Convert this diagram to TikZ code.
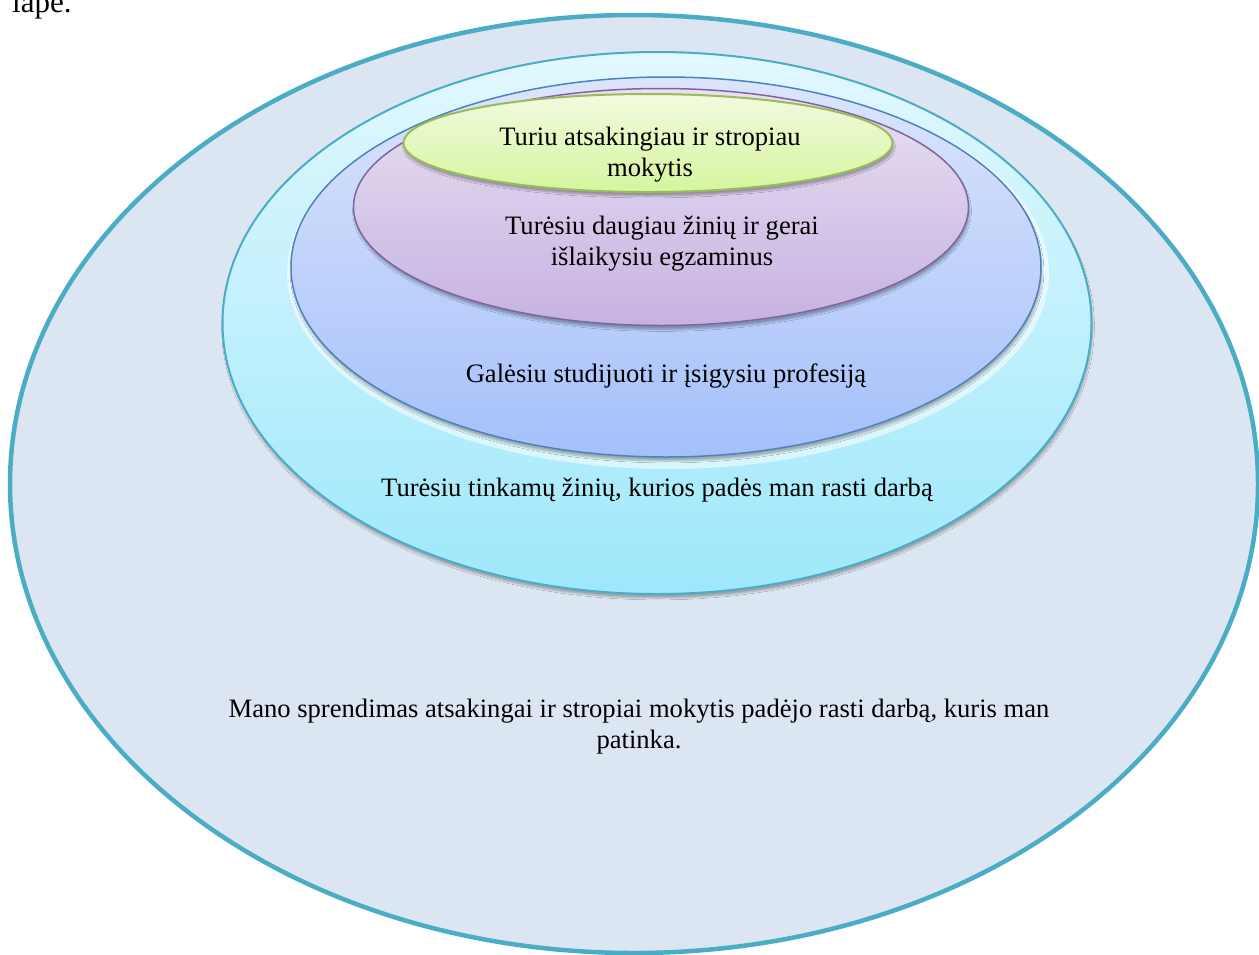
\documentclass[tikz,border=0pt]{standalone}
\usepackage{fontspec}
\setmainfont{Liberation Serif}
\usetikzlibrary{shapes.geometric,shadows.blur}

\definecolor{rimteal}{HTML}{4BACC6}
\definecolor{rimblue}{HTML}{4F81BD}
\definecolor{rimviolet}{HTML}{8064A2}
\definecolor{rimgreen}{HTML}{9BBB59}
\definecolor{goalfill}{HTML}{DCE6F2}
\definecolor{worktop}{HTML}{E2F8FE}
\definecolor{workbottom}{HTML}{9EE8FB}
\definecolor{studytop}{HTML}{DCE5FC}
\definecolor{studybottom}{HTML}{A4C0FA}
\definecolor{examstop}{HTML}{E9E1F2}
\definecolor{examsbottom}{HTML}{C6B2E1}
\definecolor{learntop}{HTML}{F3FADF}
\definecolor{learnbottom}{HTML}{D5F69E}

\begin{document}
\begin{tikzpicture}[x=1pt, y=-1pt,
    ring/.style={ellipse, inner sep=0pt, line width=1.5pt,
        blur shadow={shadow xshift=1pt, shadow yshift=-4pt, shadow opacity=30, shadow blur steps=6}},
    caption/.style={align=center, font=\fontsize{26.6}{31}\selectfont}]
    \useasboundingbox (0,0) rectangle (1259,954);

    % end of the sentence above the figure
    \node[anchor=base west, inner sep=0pt, font=\fontsize{31}{36}\selectfont] (prevline) at (12,12) {lape.};

    % rings from the outside in
    \node[ellipse, inner sep=0pt, draw=rimteal, line width=4.5pt, fill=goalfill,
        minimum width=1248pt, minimum height=938pt] (goal) at (634,484) {};            % job I like
    \node[ring, draw=rimteal, line width=2pt, top color=worktop, bottom color=workbottom,
        minimum width=869pt, minimum height=542pt] (work) at (657,323) {};             % finding work
    \node[ellipse, inner sep=0pt, fill=white, opacity=.55,
        minimum width=762pt, minimum height=392pt] (studyglow) at (668,273) {};        % light rim under the next ring
    \node[ring, draw=rimblue, top color=studytop, bottom color=studybottom,
        minimum width=750pt, minimum height=380pt] (study) at (666,267) {};            % studies and profession
    \node[ring, draw=rimviolet, top color=examstop, bottom color=examsbottom,
        minimum width=615pt, minimum height=237pt] (exams) at (661,207) {};            % exams
    \node[ring, draw=rimgreen, line width=2pt, top color=learntop, bottom color=learnbottom,
        minimum width=489pt, minimum height=98pt] (learn) at (648,143) {};             % learning harder

    % labels
    \node[caption] (learntext) at (650,155) {Turiu atsakingiau ir stropiau\\mokytis};
    \node[caption] (examstext) at (662,244) {Turėsiu daugiau žinių ir gerai\\išlaikysiu egzaminus};
    \node[caption] (studytext) at (666,376) {Galėsiu studijuoti ir įsigysiu profesiją};
    \node[caption] (worktext) at (657,490) {Turėsiu tinkamų žinių, kurios padės man rasti darbą};
    \node[caption] (goaltext) at (639,727) {Mano sprendimas atsakingai ir stropiai mokytis padėjo rasti darbą, kuris man\\patinka.};
\end{tikzpicture}
\end{document}
